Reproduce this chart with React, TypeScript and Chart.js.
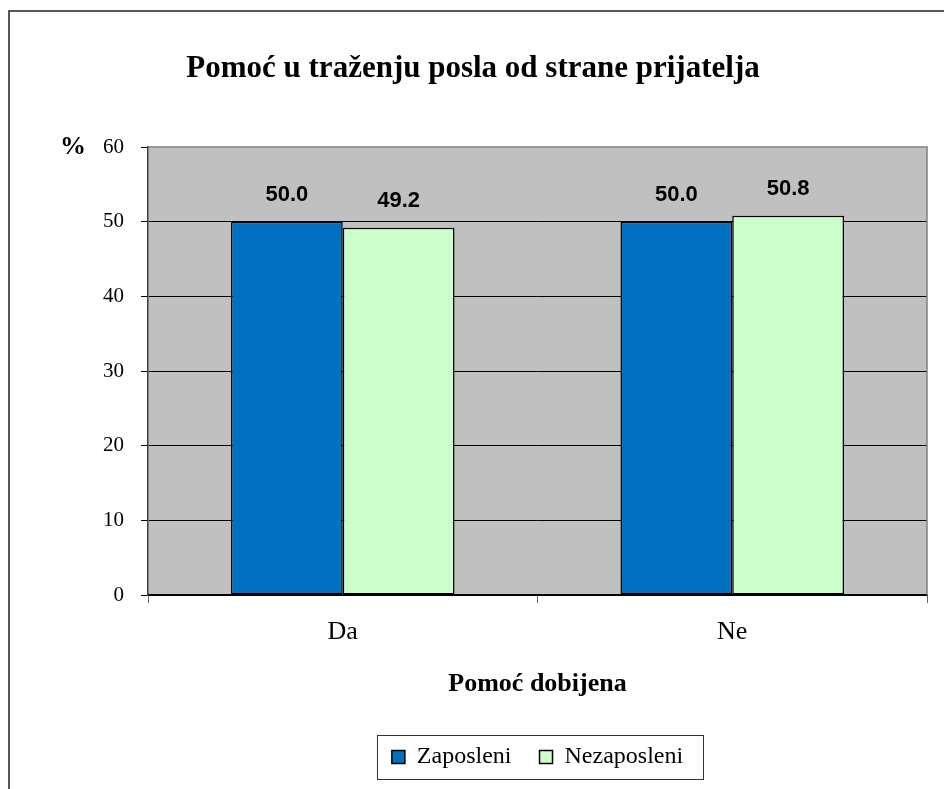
import React, { useEffect, useRef } from "react";
import { Chart, registerables } from "chart.js";

Chart.register(...registerables);

const categories = ["Da", "Ne"];
const seriesNames = ["Zaposleni", "Nezaposleni"];
const zaposleni = [50.0, 50.0];
const nezaposleni = [49.2, 50.8];
const yTicks = [0, 10, 20, 30, 40, 50, 60];
const titleText = "Pomoć u traženju posla od strane prijatelja";
const xTitle = "Pomoć dobijena";
const yUnit = "%";

const SERIF = "'Times New Roman', 'Liberation Serif', serif";
const SANS = "Arial, 'Liberation Sans', sans-serif";

const decorPlugin = {
  id: "decor",
  beforeDraw(chart: any) {
    const { ctx, chartArea: a } = chart;
    ctx.save();
    ctx.fillStyle = "#C0C0C0";
    ctx.fillRect(a.left, a.top, a.right - a.left, a.bottom - a.top);
    // outer frame
    ctx.strokeStyle = "#222";
    ctx.lineWidth = 1.5;
    ctx.beginPath();
    ctx.moveTo(9, chart.height);
    ctx.lineTo(9, 11);
    ctx.lineTo(chart.width, 11);
    ctx.stroke();
    ctx.restore();
  },
  afterDatasetsDraw(chart: any) {
    const { ctx, chartArea: a } = chart;
    ctx.save();
    // plot border top/right
    ctx.strokeStyle = "#808080";
    ctx.lineWidth = 1.5;
    ctx.beginPath();
    ctx.moveTo(a.left, a.top);
    ctx.lineTo(a.right, a.top);
    ctx.lineTo(a.right, a.bottom);
    ctx.stroke();
    // data labels
    ctx.fillStyle = "#000";
    ctx.font = "bold 22px " + SANS;
    ctx.textAlign = "center";
    ctx.textBaseline = "middle";
    chart.data.datasets.forEach((ds: any, di: number) => {
      const meta = chart.getDatasetMeta(di);
      meta.data.forEach((el: any, i: number) => {
        ctx.fillText(Number(ds.data[i]).toFixed(1), el.x, el.y - 27);
      });
    });
    // % unit
    ctx.font = "bold 26px " + SERIF;
    ctx.fillText(yUnit, a.left - 75, a.top);
    ctx.restore();
  },
  afterDraw(chart: any) {
    const lg = chart.legend;
    if (!lg || !lg.legendHitBoxes || !lg.legendHitBoxes.length) return;
    const hb = lg.legendHitBoxes;
    const first = hb[0];
    const last = hb[hb.length - 1];
    const cy = first.top + first.height / 2;
    const { ctx } = chart;
    ctx.save();
    ctx.strokeStyle = "#333";
    ctx.lineWidth = 1;
    const left = Math.round(first.left - 15);
    const right = Math.round(last.left + last.width + 20);
    ctx.strokeRect(left + 0.5, Math.round(cy - 22) + 0.5, right - left, 44);
    ctx.restore();
  },
};

export default function App() {
  const ref = useRef<HTMLCanvasElement | null>(null);
  useEffect(() => {
    if (!ref.current) return;
    const chart = new Chart(ref.current, {
      type: "bar",
      data: {
        labels: categories,
        datasets: [
          {
            label: seriesNames[0],
            data: zaposleni,
            backgroundColor: "#0070C0",
            borderColor: "#000",
            borderWidth: 1.5,
            borderSkipped: false,
            categoryPercentage: 0.574,
            barPercentage: 1,
          },
          {
            label: seriesNames[1],
            data: nezaposleni,
            backgroundColor: "#CCFFCC",
            borderColor: "#000",
            borderWidth: 1.5,
            borderSkipped: false,
            categoryPercentage: 0.574,
            barPercentage: 1,
          },
        ],
      },
      options: {
        animation: false,
        responsive: false,
        maintainAspectRatio: false,
        layout: { padding: { left: 19, right: 17, top: 0, bottom: 10 } },
        plugins: {
          tooltip: { enabled: false },
          title: {
            display: true,
            text: titleText,
            color: "#000",
            font: { family: SERIF, size: 31, weight: "bold", lineHeight: 1.2 },
            padding: { top: 50.4, bottom: 59.4 },
          },
          legend: {
            display: true,
            position: "bottom",
            fullSize: false,
            labels: {
              color: "#000",
              boxWidth: 13,
              boxHeight: 13,
              padding: 28,
              font: { family: SERIF, size: 24 },
            },
          },
        },
        scales: {
          x: {
            offset: true,
            afterFit: (s: any) => {
              s.height = 122;
            },
            grid: {
              offset: true,
              drawOnChartArea: false,
              drawTicks: true,
              tickLength: 8,
              color: "#666",
            },
            border: { display: true, color: "#000", width: 1.5 },
            ticks: {
              color: "#000",
              padding: 14,
              font: { family: SERIF, size: 26 },
            },
            title: {
              display: true,
              text: xTitle,
              color: "#000",
              font: { family: SERIF, size: 26, weight: "bold", lineHeight: 1.2 },
              padding: { top: 0, bottom: 17.4 },
            },
          },
          y: {
            min: 0,
            max: 60,
            afterFit: (s: any) => {
              s.width = 129;
            },
            afterBuildTicks: (s: any) => {
              s.ticks = yTicks.map((v) => ({ value: v }));
            },
            grid: {
              drawTicks: true,
              tickLength: 7,
              color: (c: any) => (c.tick && c.tick.value === 60 ? "rgba(0,0,0,0)" : "#000"),
              tickColor: "#000",
              lineWidth: 1,
            },
            border: { display: true, color: "#404040", width: 1.5 },
            ticks: {
              color: "#000",
              padding: 17,
              font: { family: SERIF, size: 21 },
            },
          },
        },
      },
      plugins: [decorPlugin],
    });
    return () => chart.destroy();
  }, []);
  return (
    <div style={{ position: "absolute", left: 0, top: 0, width: 944, height: 789, background: "#fff" }}>
      <canvas ref={ref} width={944} height={789} style={{ display: "block" }} />
    </div>
  );
}
